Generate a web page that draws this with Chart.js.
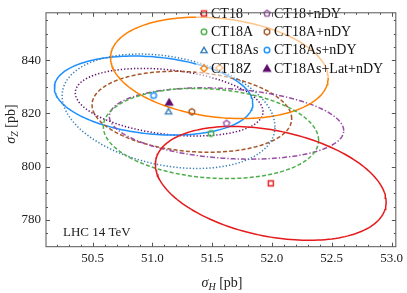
<!DOCTYPE html>
<html>
<head>
<meta charset="utf-8">
<script src="https://cdn.jsdelivr.net/npm/chart.js@4.4.1/dist/chart.umd.min.js"></script>
<style>
html, body { margin: 0; padding: 0; background: #fff; }
</style>
</head>
<body>
<canvas id="grafico" width="407" height="293"></canvas>
<script>
// Insiemi PDF (ordine della legenda, colonna per colonna)
const pdfSets = ['CT18', 'CT18A', 'CT18As', 'CT18Z', 'CT18+nDY', 'CT18A+nDY', 'CT18As+nDY', 'CT18As+Lat+nDY'];
// Valori centrali
const sigmaH = [51.99, 51.49, 51.135, 51.56, 51.62, 51.33, 51.01, 51.14];
const sigmaZ = [793.7, 812.45, 820.8, 837.1, 816.2, 820.6, 826.7, 824.2];
// Semi-assi delle ellissi (incertezze) e correlazione
const errH = [0.965, 0.90, 0.89, 0.91, 0.98, 0.835, 0.83, 0.785];
const errZ = [21.4, 16.95, 21.5, 19.05, 13.4, 15.2, 14.85, 12.7];
const corr = [-0.33, -0.15, -0.27, -0.2, -0.2, -0.17, -0.2, -0.28];
// Tick degli assi
const xTicks = [50.5, 51.0, 51.5, 52.0, 52.5, 53.0];
const yTicks = [780, 800, 820, 840];

// Stili
const colori = ['#e41a1c', '#4daf4a', '#377eb8', '#ff7f00', '#984ea3', '#a65628', '#1e8fff', '#5e0f6e'];
const tratti = [[], [4, 2.2], [1.3, 2], [], [5, 2, 1.3, 2], [4, 2.2], [], [1.3, 2]];
const forme = ['square', 'circle', 'triangle', 'diamond', 'pentagon', 'hexagon', 'circle', 'triFilled'];
const FONT = '"Liberation Serif", "DejaVu Serif", serif';

// Crea il marker come piccolo canvas
function creaMarker(forma, colore) {
    const c = document.createElement('canvas');
    c.width = 12; c.height = 12;
    const g = c.getContext('2d');
    g.strokeStyle = colore;
    g.fillStyle = colore;
    g.lineWidth = 1.4;
    g.beginPath();
    const poly = (n, r, start, cy) => {
        for (let k = 0; k < n; k++) {
            const a = start + 2 * Math.PI * k / n;
            const px = 6 + r * Math.cos(a), py = (cy || 6) + r * Math.sin(a);
            if (k === 0) g.moveTo(px, py); else g.lineTo(px, py);
        }
        g.closePath();
    };
    if (forma === 'square') g.rect(3.5, 3.5, 5, 5);
    else if (forma === 'circle') g.arc(6, 6, 2.8, 0, 2 * Math.PI);
    else if (forma === 'triangle') poly(3, 3.6, -Math.PI / 2, 6.8);
    else if (forma === 'diamond') poly(4, 3.5, -Math.PI / 2);
    else if (forma === 'pentagon') poly(5, 3.2, -Math.PI / 2);
    else if (forma === 'hexagon') poly(6, 3.1, -Math.PI / 2);
    else if (forma === 'triFilled') poly(3, 4, -Math.PI / 2, 6.8);
    if (forma === 'triFilled') g.fill();
    g.stroke();
    return c;
}
const marker = forme.map((f, i) => creaMarker(f, colori[i]));

// Punti dell'ellisse dai parametri letti
function ellisse(i) {
    const pts = [];
    const s = Math.sqrt(1 - corr[i] * corr[i]);
    for (let k = 0; k <= 180; k++) {
        const t = 2 * Math.PI * k / 180;
        pts.push({
            x: sigmaH[i] + errH[i] * Math.cos(t),
            y: sigmaZ[i] + errZ[i] * (corr[i] * Math.cos(t) + s * Math.sin(t))
        });
    }
    return pts;
}

const datasets = [];
for (let i = 0; i < pdfSets.length; i++) {
    datasets.push({
        label: pdfSets[i] + ' ellisse',
        data: ellisse(i),
        showLine: true,
        borderColor: colori[i],
        borderWidth: 1.5,
        borderDash: tratti[i],
        pointRadius: 0,
        fill: false,
        order: 2
    });
}
for (let i = 0; i < pdfSets.length; i++) {
    datasets.push({
        label: pdfSets[i],
        data: [{ x: sigmaH[i], y: sigmaZ[i] }],
        pointStyle: marker[i],
        pointRadius: 5,
        order: 1
    });
}

// Cornice, tick interni, legenda, titoli
const decorazioni = {
    id: 'decorazioni',
    afterDatasetsDraw(chart) {
        const ctx = chart.ctx;
        // sfondo semitrasparente della legenda
        ctx.save();
        ctx.fillStyle = 'rgba(255,255,255,0.55)';
        ctx.fillRect(196, 1, 198, 77);
        ctx.font = '14px ' + FONT;
        ctx.fillStyle = '#111';
        ctx.textBaseline = 'middle';
        for (let i = 0; i < pdfSets.length; i++) {
            const col = i < 4 ? 0 : 1;
            const row = i % 4;
            const mx = col ? 267 : 204;
            const my = 13.5 + row * 18.3;
            ctx.drawImage(marker[i], mx - 6, my - 6);
            ctx.fillText(pdfSets[i], mx + 7, my + 0.5);
        }
        ctx.restore();
    },
    afterDraw(chart) {
        const ctx = chart.ctx;
        const a = chart.chartArea;
        const xs = chart.scales.x, ys = chart.scales.y;
        ctx.save();
        ctx.strokeStyle = '#555';
        ctx.lineWidth = 1;
        ctx.strokeRect(a.left, a.top, a.right - a.left, a.bottom - a.top);
        ctx.beginPath();
        for (let v = 50.2; v <= 53.001; v += 0.1) {
            const px = Math.round(xs.getPixelForValue(v)) + 0.5;
            const major = xTicks.some(t => Math.abs(t - v) < 1e-6);
            const l = major ? 4 : 2;
            ctx.moveTo(px, a.bottom); ctx.lineTo(px, a.bottom - l);
            ctx.moveTo(px, a.top); ctx.lineTo(px, a.top + l);
        }
        for (let v = 775; v <= 855; v += 5) {
            const py = Math.round(ys.getPixelForValue(v)) + 0.5;
            const l = yTicks.includes(v) ? 4 : 2;
            ctx.moveTo(a.left, py); ctx.lineTo(a.left + l, py);
            ctx.moveTo(a.right, py); ctx.lineTo(a.right - l, py);
        }
        ctx.stroke();

        // testo in basso a sinistra
        ctx.fillStyle = '#222';
        ctx.font = '13px ' + FONT;
        ctx.textBaseline = 'middle';
        ctx.fillText('LHC 14 TeV', 63, 233);

        // titoli degli assi con pedice
        const titolo = (sub, cx, cy, ruota) => {
            ctx.save();
            ctx.translate(cx, cy);
            if (ruota) ctx.rotate(-Math.PI / 2);
            const f1 = 'italic 14px ' + FONT, f2 = 'italic 10px ' + FONT, f3 = '14px ' + FONT;
            ctx.font = f1; const w1 = ctx.measureText('σ').width;
            ctx.font = f2; const w2 = ctx.measureText(sub).width;
            ctx.font = f3; const w3 = ctx.measureText(' [pb]').width;
            let x0 = -(w1 + w2 + w3) / 2;
            ctx.textBaseline = 'alphabetic';
            ctx.font = f1; ctx.fillText('σ', x0, 4);
            ctx.font = f2; ctx.fillText(sub, x0 + w1, 7);
            ctx.font = f3; ctx.fillText(' [pb]', x0 + w1 + w2, 4);
            ctx.restore();
        };
        titolo('H', 222, 283, false);
        titolo('Z', 11, 124, true);
        ctx.restore();
    }
};

new Chart(document.getElementById('grafico').getContext('2d'), {
    type: 'scatter',
    data: { datasets: datasets },
    options: {
        responsive: false,
        animation: false,
        events: [],
        layout: { padding: { left: 0, top: 0, right: 8.7, bottom: 0 } },
        plugins: { legend: { display: false }, tooltip: { enabled: false } },
        scales: {
            x: {
                type: 'linear',
                min: 50.11,
                max: 53.036,
                grid: { display: false, drawTicks: false },
                border: { display: false },
                afterFit: s => { s.height = 46.3; },
                afterBuildTicks: s => { s.ticks = xTicks.map(v => ({ value: v })); },
                ticks: {
                    padding: 4,
                    color: '#222',
                    font: { family: FONT, size: 13 },
                    maxRotation: 0,
                    callback: v => Number(v).toFixed(1)
                }
            },
            y: {
                type: 'linear',
                min: 769.9,
                max: 857.8,
                grid: { display: false, drawTicks: false },
                border: { display: false },
                afterFit: s => { s.width = 46; },
                afterBuildTicks: s => { s.ticks = yTicks.map(v => ({ value: v })); },
                ticks: {
                    padding: 5,
                    color: '#222',
                    font: { family: FONT, size: 13 },
                    callback: v => String(v)
                }
            }
        }
    },
    plugins: [decorazioni]
});
</script>
</body>
</html>
